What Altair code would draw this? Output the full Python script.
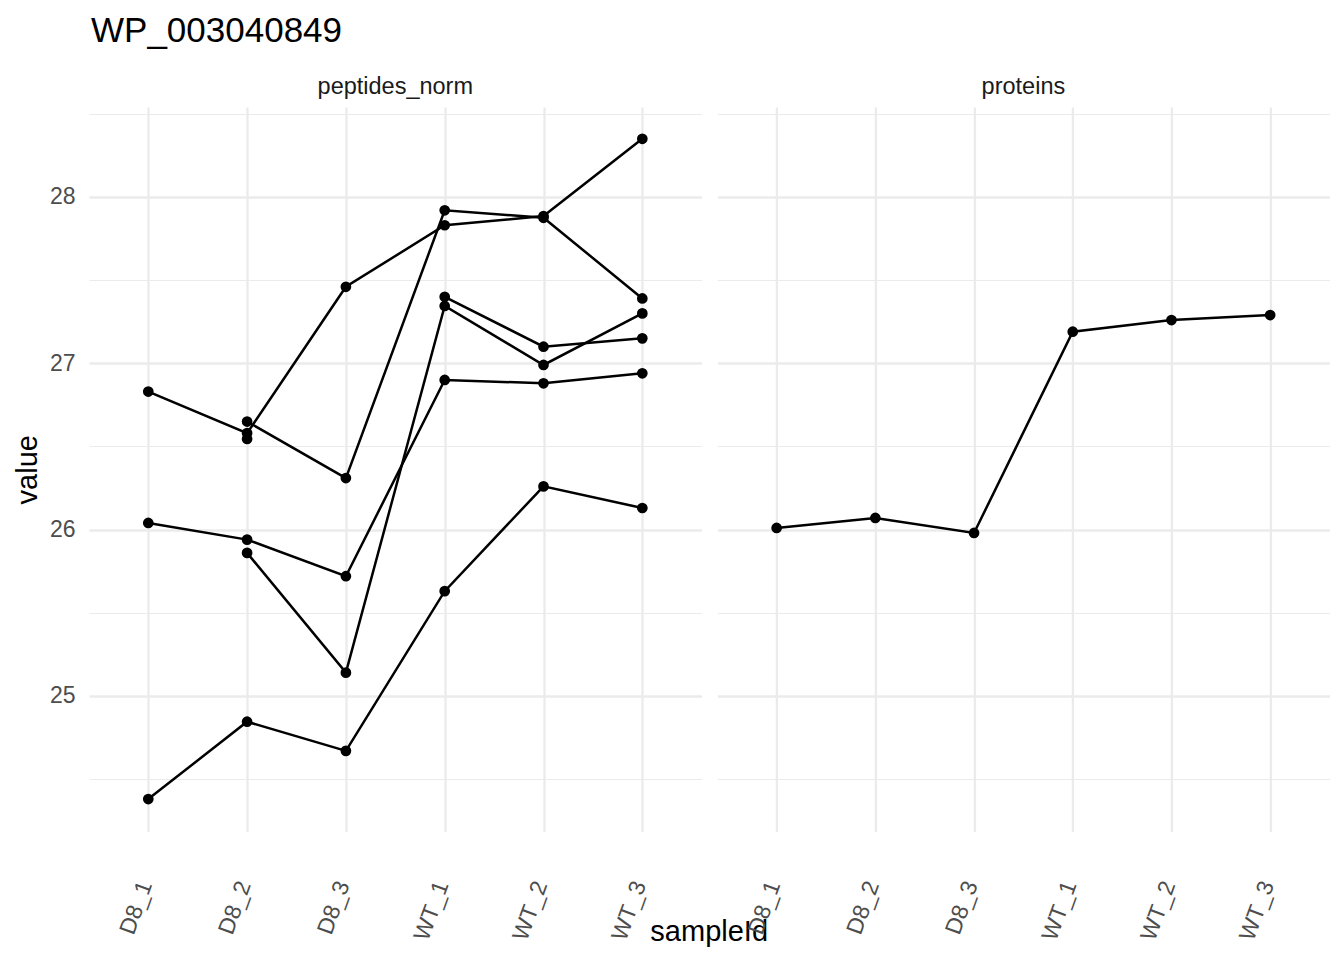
import altair as alt
import pandas as pd

# ---- data ----
samples = ["D8_1", "D8_2", "D8_3", "WT_1", "WT_2", "WT_3"]
pep_1 = [26.83, 26.58, 27.46, 27.83, 27.885, 28.35]
pep_2 = [None, 26.65, 26.31, 27.92, 27.875, 27.39]
pep_3 = [26.04, 25.94, 25.72, 26.90, 26.88, 26.94]
pep_4 = [None, 25.86, 25.14, 27.345, 26.99, 27.30]
pep_5 = [24.38, 24.845, 24.67, 25.63, 26.26, 26.13]
pep_6 = [None, 26.545, None, 27.40, 27.10, 27.15]
protein = [26.01, 26.07, 25.98, 27.19, 27.26, 27.29]

panels = ["peptides_norm", "proteins"]
y_ticks = [24.5, 25, 25.5, 26, 26.5, 27, 27.5, 28, 28.5]

rows = []


def add(panel, name, vals):
    seg = 0
    for i, (s, v) in enumerate(zip(samples, vals)):
        if v is None:
            seg += 1
            continue
        rows.append(dict(panel=panel, series=name, seg=f"{name}_{seg}",
                         sample=s, order=i, value=v))


for nm, vals in [("p1", pep_1), ("p2", pep_2), ("p3", pep_3),
                 ("p4", pep_4), ("p5", pep_5), ("p6", pep_6)]:
    add(panels[0], nm, vals)
add(panels[1], "prot", protein)

df = pd.DataFrame(rows)

FONT = "Liberation Sans"
GRID = "#ebebeb"
grid_w = {"condition": {"test": "datum.value % 1 === 0", "value": 2.3}, "value": 1.2}

y_scale = alt.Scale(domain=[24.185, 28.541], nice=False, zero=False)
x_scale = alt.Scale(type="point", domain=samples, padding=0.6)

x_common = dict(labelAngle=290, labelAlign="right", labelBaseline="middle",
                labelFont=FONT, labelFontSize=23, labelColor="#4d4d4d",
                labelPadding=50, labelOffset=-3, ticks=False, tickSize=0,
                domain=False, labelOverlap=False, labelBound=False,
                grid=True, gridColor=GRID, gridWidth=2.3)


def make_panel(panel, left, width):
    d = df[df.panel == panel]
    if left:
        yaxis = alt.Axis(values=y_ticks, title="value",
                         labelExpr="datum.value % 1 === 0 ? format(datum.value, 'd') : ''",
                         labelFont=FONT, labelFontSize=23, labelColor="#4d4d4d",
                         labelPadding=14, ticks=False, tickSize=0, domain=False,
                         titleFont=FONT, titleFontSize=29, titleColor="black",
                         titleFontWeight="normal", titlePadding=7,
                         grid=True, gridColor=GRID, gridWidth=grid_w)
        xaxis = alt.Axis(title="sampleId", titleX=619.7, titleY=108.5,
                         titleAlign="center", titleBaseline="alphabetic",
                         titleFont=FONT, titleFontSize=29, titleColor="black",
                         titleFontWeight="normal", **x_common)
    else:
        yaxis = alt.Axis(values=y_ticks, title=None, labels=False, ticks=False,
                         tickSize=0, domain=False, grid=True, gridColor=GRID,
                         gridWidth=grid_w)
        xaxis = alt.Axis(title=None, **x_common)
    base = alt.Chart(d).encode(
        x=alt.X("sample:N", scale=x_scale, axis=xaxis, sort=samples),
        y=alt.Y("value:Q", scale=y_scale, axis=yaxis),
    )
    line = base.mark_line(color="black", strokeWidth=2.5).encode(
        detail="seg:N", order="order:Q")
    pts = base.mark_circle(color="black", size=115, opacity=1)
    return alt.layer(line, pts).properties(
        width=width, height=724.5,
        title=alt.TitleParams(panel, anchor="middle", fontSize=23.5,
                              fontWeight="normal", color="#1a1a1a", font=FONT,
                              baseline="alphabetic", offset=-10),
    )


left = make_panel(panels[0], True, 612.6)
right = make_panel(panels[1], False, 612)

chart = alt.hconcat(left, right, spacing=15.4, bounds="flush").properties(
    title=alt.TitleParams("WP_003040849", anchor="start", frame="group",
                          fontSize=35, fontWeight="normal", color="black",
                          font=FONT, offset=26, dx=2),
).configure_view(stroke=None)

chart.save("out.html", embed_options={"renderer": "svg", "actions": False})
